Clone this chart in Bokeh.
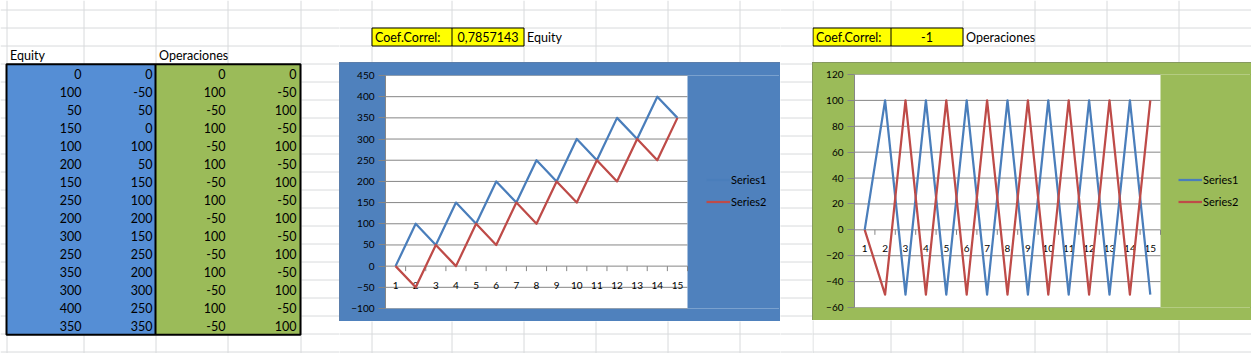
import math
from bokeh.plotting import figure
from bokeh.layouts import row, column
from bokeh.models import Range1d, FixedTicker, Legend, LegendItem
from bokeh.core.properties import value
from bokeh.embed import file_html
from bokeh.resources import INLINE

# ---------------- data ----------------
categories = list(range(1, 16))
equity_s1 = [0, 100, 50, 150, 100, 200, 150, 250, 200, 300, 250, 350, 300, 400, 350]
equity_s2 = [0, -50, 50, 0, 100, 50, 150, 100, 200, 150, 250, 200, 300, 250, 350]
oper_s1 = [0, 100, -50, 100, -50, 100, -50, 100, -50, 100, -50, 100, -50, 100, -50]
oper_s2 = [0, -50, 100, -50, 100, -50, 100, -50, 100, -50, 100, -50, 100, -50, 100]
equity_yticks = [-100, -50, 0, 50, 100, 150, 200, 250, 300, 350, 400, 450]
oper_yticks = [-60, -40, -20, 0, 20, 40, 60, 80, 100, 120]
series_names = ["Series1", "Series2"]
coef_label = "Coef.Correl:"
equity_coef = "0,7857143"
oper_coef = "-1"
equity_title = "Equity"
oper_title = "Operaciones"

FONT = "Lato"
GRID_SHEET = "#d8dadc"
AXIS_GRAY = "#868686"
BLUE_LINE = "#4a7ebb"
RED_LINE = "#be4b48"
TABLE_BLUE = "#558ed5"
TABLE_GREEN = "#9bbb59"
CHART1_BG = "#4f81bd"
CHART2_BG = "#9bbb59"
YELLOW = "#ffff00"

# sheet geometry (pixel positions in the sheet)
SHEET_COLS = [6, 83, 155, 227, 300, 371, 451, 523, 595, 667, 739, 812, 890, 962, 1034, 1106, 1178, 1251]
SHEET_ROWS = [9 + 18 * k for k in range(20)]


def no_align(p):
    try:
        p.frame_align = False
    except Exception:
        pass
    return p


def sheet(x0, x1, y0, y1):
    p = figure(width=x1 - x0, height=y1 - y0, title=None,
               x_range=Range1d(x0, x1), y_range=Range1d(y1, y0),
               x_axis_location=None, y_axis_location=None,
               toolbar_location=None, output_backend="svg",
               min_border=0, outline_line_color=None,
               background_fill_color="white", border_fill_color="white")
    no_align(p)
    p.grid.visible = False

    def inside(bx0, bx1, by0, by1):
        return bx0 >= x0 - 8 and bx1 <= x1 + 8 and by0 >= y0 and by1 <= y1

    # gridlines
    cx = [c + 0.5 for c in SHEET_COLS]
    p.segment(x0=cx, y0=[0] * len(cx), x1=cx, y1=[361] * len(cx), line_color=GRID_SHEET, line_width=1)
    ry = [r + 0.5 for r in SHEET_ROWS]
    p.segment(x0=[0] * len(ry), y0=ry, x1=[1259] * len(ry), y1=ry, line_color=GRID_SHEET, line_width=1)

    hk = dict(text_font=value(FONT), text_font_size="12.5px", text_color="black",
              text_align="left", text_baseline="middle")
    # data table
    n = len(equity_s1)
    top, bot = 63.7, 63.7 + 18 * n + 0.6
    if inside(0, 300, 45, bot):
        p.quad(left=[6], right=[155], top=[top], bottom=[bot], fill_color=TABLE_BLUE, line_color=None)
        p.quad(left=[155], right=[300], top=[top], bottom=[bot], fill_color=TABLE_GREEN, line_color=None)
        p.quad(left=[6], right=[300], top=[top], bottom=[bot], fill_color=None, line_color="black", line_width=2)
        p.segment(x0=[155], y0=[top], x1=[155], y1=[bot], line_color="black", line_width=2)
        ys = [73.5 + 18 * i for i in range(n)]
        tk = dict(text_font=value(FONT), text_font_size="12.5px", text_color="black",
                  text_align="right", text_baseline="middle")
        p.text(x=[81] * n, y=ys, text=[str(v) for v in equity_s1], **tk)
        p.text(x=[152] * n, y=ys, text=[str(v) for v in equity_s2], **tk)
        p.text(x=[225] * n, y=ys, text=[str(v) for v in oper_s1], **tk)
        p.text(x=[296] * n, y=ys, text=[str(v) for v in oper_s2], **tk)
        p.text(x=[9.5, 158.5], y=[55, 55], text=[equity_title, oper_title], **hk)

    # correlation cells
    for (cl, cm, cr, val, name) in [(371.5, 451.5, 523.5, equity_coef, equity_title),
                                    (812.5, 890.5, 962.5, oper_coef, oper_title)]:
        if not inside(cl, cr + 75, 27, 46):
            continue
        p.quad(left=[cl], right=[cr], top=[27.5], bottom=[45.5], fill_color=YELLOW,
               line_color="black", line_width=1)
        p.segment(x0=[cm], y0=[27.5], x1=[cm], y1=[45.5], line_color="black", line_width=1)
        p.text(x=[cl + 3], y=[36.5], text=[coef_label], **hk)
        p.text(x=[(cm + cr) / 2], y=[36.5], text=[val], text_font=value(FONT),
               text_font_size="12.5px", text_color="black", text_align="center", text_baseline="middle")
        p.text(x=[cr + 3], y=[36.5], text=[name], **hk)
    return p


def chart(s1, s2, yticks, bg, edge, width, height, left, top, bottom, plot_px, legend_loc):
    # frame spans plot area + legend zone; plot area covers the categories only
    frame_px = width - left
    x_lo = categories[0] - 0.5
    x_hi = categories[-1] + 0.5
    x_end = x_lo + (x_hi - x_lo) * frame_px / plot_px
    p = figure(width=width, height=height, title=None,
               x_range=Range1d(x_lo, x_end),
               y_range=Range1d(yticks[0], yticks[-1]),
               x_axis_location=None, y_axis_location="left",
               toolbar_location=None, output_backend="svg",
               min_border_left=left, min_border_right=0,
               min_border_top=top, min_border_bottom=bottom,
               background_fill_color=bg, border_fill_color=bg,
               outline_line_color=None)
    no_align(p)
    try:
        p.styles = {"outline": "1px solid " + edge, "outline-offset": "-1px"}
    except Exception:
        pass
    p.grid.visible = False
    ax = p.yaxis[0]
    ax.ticker = FixedTicker(ticks=yticks, minor_ticks=[])
    ax.axis_line_color = AXIS_GRAY
    ax.major_tick_line_color = AXIS_GRAY
    ax.minor_tick_line_color = None
    ax.major_tick_in = 0
    ax.major_tick_out = 7
    ax.major_label_standoff = 4
    ax.major_label_text_font = FONT
    ax.major_label_text_font_size = "10px"
    ax.major_label_text_color = "black"

    # plot area
    p.quad(left=[x_lo], right=[x_hi], bottom=[yticks[0]], top=[yticks[-1]],
           fill_color="white", line_color=None)
    nt = len(yticks)
    p.segment(x0=[x_lo] * nt, x1=[x_hi] * nt, y0=yticks, y1=yticks,
              line_color=AXIS_GRAY, line_width=1)

    # category axis at y = 0
    bounds = [c - 0.5 for c in categories] + [categories[-1] + 0.5]
    p.ray(x=bounds, y=[0] * len(bounds), length=5, length_units="screen",
          angle=-math.pi / 2, line_color=AXIS_GRAY, line_width=1)
    p.text(x=categories, y=[0] * len(categories), text=[str(c) for c in categories],
           y_offset=19, text_align="center", text_baseline="middle",
           text_font=value(FONT), text_font_size="10px", text_color="black")

    r1 = p.line(categories, s1, line_color=BLUE_LINE, line_width=2.25, line_join="round")
    r2 = p.line(categories, s2, line_color=RED_LINE, line_width=2.25, line_join="round")
    legend = Legend(items=[LegendItem(label=series_names[0], renderers=[r1]),
                           LegendItem(label=series_names[1], renderers=[r2])],
                    location=legend_loc, glyph_width=24, glyph_height=17, label_height=17,
                    label_standoff=1, spacing=5, padding=0, margin=0,
                    border_line_color=None, background_fill_alpha=0,
                    label_text_font=FONT, label_text_font_size="11px", label_text_color="black")
    p.add_layout(legend)
    return p


chart1 = chart(equity_s1, equity_s2, equity_yticks, CHART1_BG, "#5f7ea6",
               441, 259, 46, 13, 13, 302, (321, 98))
chart2 = chart(oper_s1, oper_s2, oper_yticks, CHART2_BG, "#7f8e62",
               439, 258, 42, 12, 13, 306, (324, 97))

colA = sheet(0, 339, 0, 353)
colB = column(sheet(339, 780, 0, 62), chart1, sheet(339, 780, 321, 353))
colC = sheet(780, 812, 0, 353)
colD = column(sheet(812, 1251, 0, 62), chart2, sheet(812, 1251, 320, 353))
layout = row(colA, colB, colC, colD)

open("out.html", "w").write(file_html(layout, INLINE))
